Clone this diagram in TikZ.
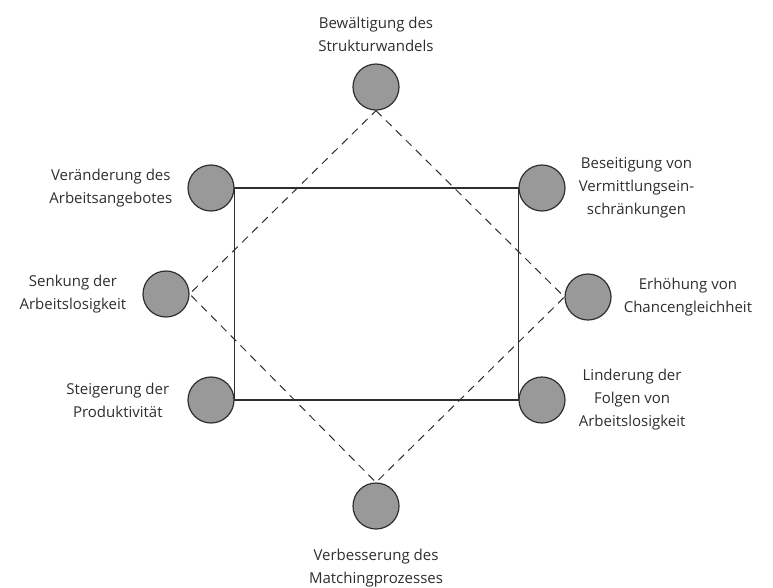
\documentclass[tikz,border=0pt]{standalone}
\usepackage{fontspec}
\setmainfont{Open Sans}
\usetikzlibrary{positioning}
\definecolor{ink}{HTML}{2E2E2E}
\definecolor{dotgray}{HTML}{999999}

\begin{document}
\begin{tikzpicture}[x=1pt,y=-1pt]
			\tikzset{goal/.style={circle, draw=ink, fill=dotgray, line width=1.2pt, minimum size=46pt, inner sep=0pt}}
			\tikzset{goaltext/.style={text=ink, align=center, inner sep=0pt, font=\fontsize{15}{23}\selectfont}}
			\useasboundingbox (0,0) rectangle (773,587);
			% Kreise
			\node[goal] (top) at (376,87) {};
			\node[goal] (ul) at (211,188) {};
			\node[goal] (ur) at (542,188) {};
			\node[goal] (left) at (166,294) {};
			\node[goal] (right) at (588,297) {};
			\node[goal] (ll) at (211,400) {};
			\node[goal] (lr) at (542,400) {};
			\node[goal] (bottom) at (376,506) {};
			% Beschriftungen
			\node[goaltext, above=12pt of top] {Bewältigung des\\Strukturwandels};
			\node[goaltext, left=15pt of ul] {Veränderung des\\Arbeitsangebotes};
			\node[goaltext, right=13pt of ur] {Beseitigung von\\Vermittlungsein-\\schränkungen};
			\node[goaltext, left=16pt of left] {Senkung der\\Arbeitslosigkeit};
			\node[goaltext, right=12pt of right] {Erhöhung von\\Chancengleichheit};
			\node[goaltext, left=18pt of ll] {Steigerung der\\Produktivität};
			\node[goaltext, right=13pt of lr] {Linderung der\\Folgen von\\Arbeitslosigkeit};
			\node[goaltext, below=19pt of bottom] {Verbesserung des\\Matchingprozesses};
			% Rechteck und Raute
			\draw[ink, line width=1.2pt] (ul.east) -- (ur.west) -- (lr.west) -- (ll.east) -- cycle;
			\draw[ink, line width=1pt, dash pattern=on 8pt off 6pt] (top.south) -- (right.west) -- (bottom.north) -- (left.east) -- cycle;
\end{tikzpicture}
\end{document}
